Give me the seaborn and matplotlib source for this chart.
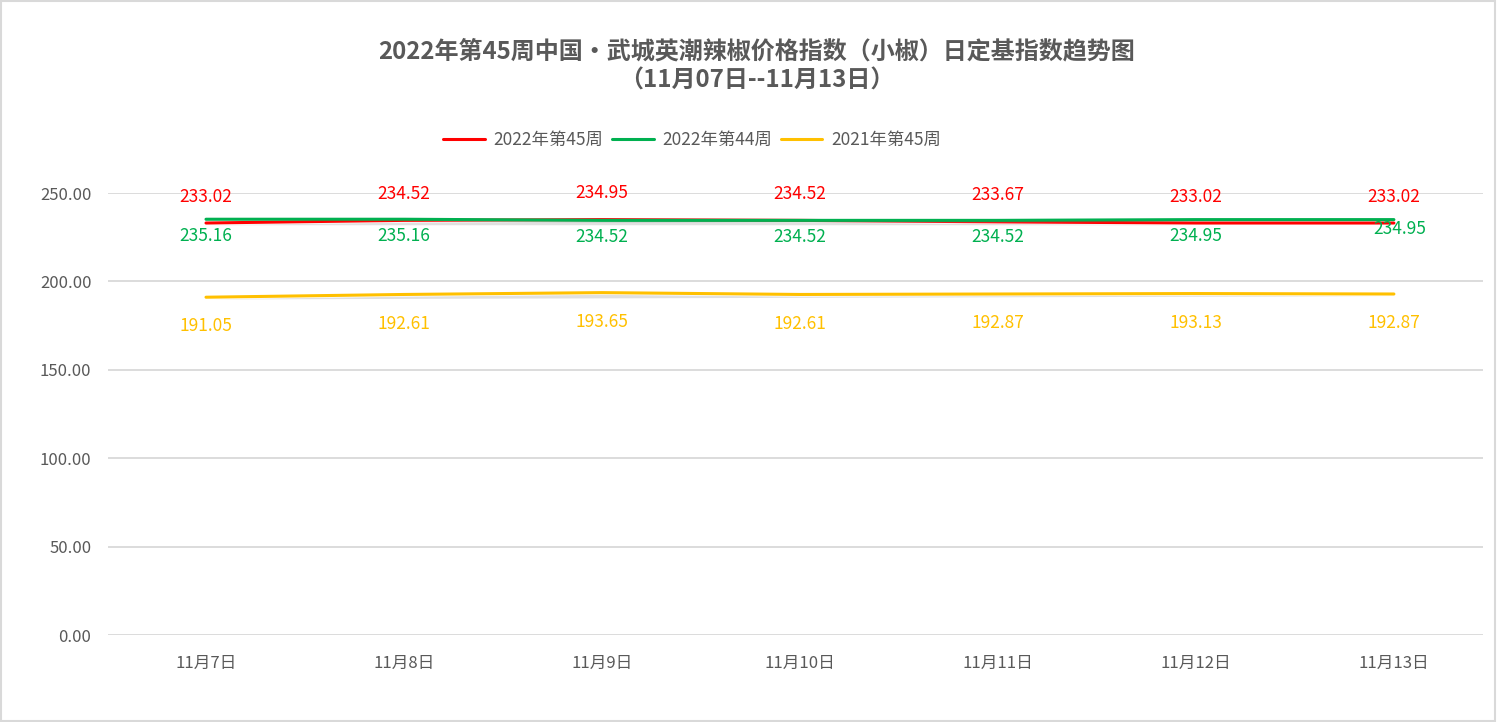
import matplotlib
matplotlib.use("Agg")
import matplotlib.pyplot as plt
import matplotlib.patheffects as pe
import seaborn as sns
import pandas as pd

# chart data
dates = ["11月7日", "11月8日", "11月9日", "11月10日", "11月11日", "11月12日", "11月13日"]
series_names = ["2022年第45周", "2022年第44周", "2021年第45周"]
week45_2022 = [233.02, 234.52, 234.95, 234.52, 233.67, 233.02, 233.02]
week44_2022 = [235.16, 235.16, 234.52, 234.52, 234.52, 234.95, 234.95]
week45_2021 = [191.05, 192.61, 193.65, 192.61, 192.87, 193.13, 192.87]
colors = ["#FF0000", "#00B050", "#FFC000"]

df = pd.concat([
    pd.DataFrame({"日期": dates, "指数": vals, "系列": name, "idx": range(len(dates))})
    for name, vals in zip(series_names, [week45_2022, week44_2022, week45_2021])
], ignore_index=True)

sns.set_theme(style="white")
plt.rcParams['font.family'] = ['Noto Sans CJK SC', 'DejaVu Sans']
text_col = "#595959"

fig = plt.figure(figsize=(14.98, 7.22), dpi=100)
ax = fig.add_axes([108 / 1498, 87 / 722, (1483 - 108) / 1498, (635 - 193) / 722])

shadow = [pe.SimplePatchShadow(offset=(0.8, -1.6), shadow_rgbFace="#999999", alpha=0.3), pe.Normal()]
sns.lineplot(data=df, x="idx", y="指数", hue="系列", palette=colors, linewidth=2.2,
             ax=ax, legend=False, sort=False)
for line in ax.get_lines():
    line.set_path_effects(shadow)

# data labels
label_offsets = {series_names[0]: 19, series_names[1]: -12, series_names[2]: -21}
for name, vals, col in zip(series_names, [week45_2022, week44_2022, week45_2021], colors):
    for i, v in enumerate(vals):
        dx, dy = 0, label_offsets[name]
        if name == series_names[1] and i == len(vals) - 1:
            dx, dy = 4, -7
        ax.annotate(f"{v:.2f}", (i, v), xytext=(dx, dy), textcoords="offset points",
                    ha="center", va="center", color=col, fontsize=12.5, clip_on=False)

ax.set_xlim(-0.495, 6.45)
ax.set_ylim(0, 250)
ax.set_yticks([0, 50, 100, 150, 200, 250])
ax.set_yticklabels([f"{t:.2f}" for t in [0, 50, 100, 150, 200, 250]])
ax.set_xticks(range(len(dates)))
ax.set_xticklabels(dates)
ax.tick_params(axis="both", colors=text_col, labelsize=12, length=0)
ax.tick_params(axis="x", pad=14)
ax.tick_params(axis="y", pad=12)
ax.grid(axis="y", color="#D9D9D9", linewidth=1.3)
ax.set_axisbelow(True)
for s in ax.spines.values():
    s.set_visible(False)
ax.set_xlabel("")
ax.set_ylabel("")

# legend
handles = [plt.Line2D([0], [0], color=c, linewidth=2.2) for c in colors]
fig.legend(handles, series_names, loc="center", bbox_to_anchor=(692 / 1498, 1 - 140 / 722),
           ncol=3, frameon=False, fontsize=12.5, handlelength=2.4, columnspacing=0.5,
           handletextpad=0.5, labelcolor=text_col)

# title
fig.text(757 / 1498, 1 - 51 / 722, "2022年第45周中国·武城英潮辣椒价格指数（小椒）日定基指数趋势图",
         ha="center", va="center", fontsize=17.3, fontweight="bold", color=text_col)
fig.text(757 / 1498, 1 - 81 / 722, "（11月07日--11月13日）",
         ha="center", va="center", fontsize=17.3, fontweight="bold", color=text_col)

# outer border
fig.patches.append(plt.Rectangle((0.001, 0.001), 0.997, 0.997, transform=fig.transFigure,
                                 fill=False, edgecolor="#D9D9D9", linewidth=1.5))

fig.savefig("out.png", dpi=100, facecolor="white")
